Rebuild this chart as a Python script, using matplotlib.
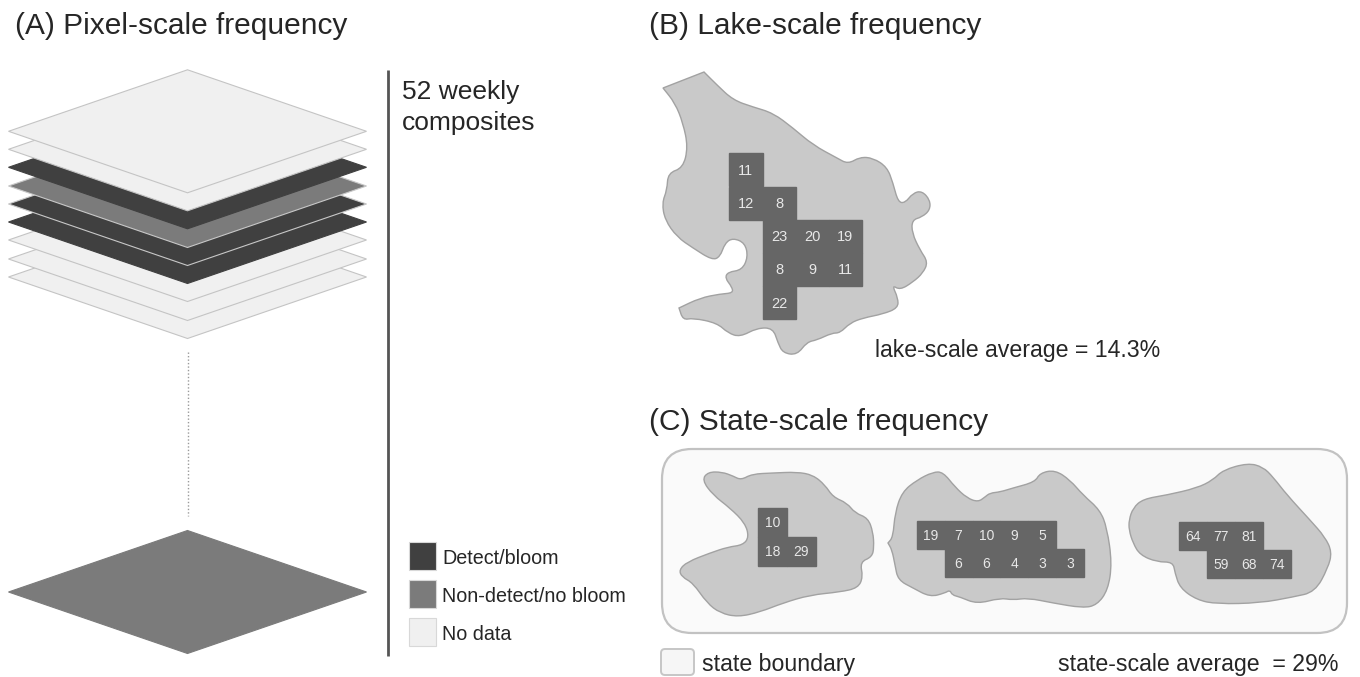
import matplotlib
matplotlib.use('Agg')
import matplotlib.pyplot as plt
from matplotlib.patches import Polygon, Rectangle, FancyBboxPatch, PathPatch
from matplotlib.path import Path

plt.rcParams['font.family'] = ['Liberation Sans', 'DejaVu Sans']

TXT = '#262626'
DARK = '#404040'
MID = '#7b7b7b'
LIGHT = '#f0f0f0'

# layers in panel A, top to bottom
layer_kind = ['none', 'none', 'bloom', 'nobloom', 'bloom', 'bloom', 'none', 'none', 'none']
layer_left_y = [131.3, 149.3, 167.3, 186, 204, 222, 240, 259, 277]
base_y = 592

legend_labels = ['Detect/bloom', 'Non-detect/no bloom', 'No data']
legend_colors = [DARK, MID, LIGHT]
legend_top = [541.7, 579.7, 617.5]

# lake outlines
lake_b = [(663, 88), (663, 88), (704, 72), (704, 72), (717, 85), (733, 100), (753, 107), (773, 113), (793, 128), (813, 145),
          (837, 158), (848, 164), (860, 157), (873, 158), (887, 167), (893, 183), (898, 202), (905, 203),
          (913, 193), (922, 191), (930, 200), (930, 210), (922, 217), (912, 220), (912, 233), (920, 250),
          (928, 262), (923, 273), (913, 282), (900, 290), (892, 285), (898, 298), (898, 308), (883, 314),
          (863, 318), (850, 323), (840, 333), (832, 333), (817, 340), (807, 342), (797, 355), (783, 353),
          (778, 343), (773, 328), (757, 328), (740, 337), (728, 333), (717, 323), (693, 318), (683, 320),
          (679, 308), (679, 308), (700, 298), (720, 294), (733, 293), (732, 287), (725, 278), (728, 272), (742, 270),
          (748, 257), (745, 243), (733, 238), (725, 243), (720, 257), (712, 260), (693, 248), (677, 237),
          (665, 220), (662, 203), (667, 190), (668, 173), (683, 168), (688, 147), (683, 123), (675, 103)]
lake_c1 = [(702, 480), (708, 472), (722, 472), (733, 476), (741, 480), (752, 474), (773, 473), (797, 472),
           (813, 475), (825, 485), (833, 497), (847, 503), (855, 513), (868, 518), (873, 532), (874, 547),
           (872, 557), (860, 562), (863, 577), (858, 588), (840, 592), (810, 595), (783, 603), (760, 612),
           (738, 617), (720, 613), (707, 603), (693, 583), (682, 577), (679, 570), (687, 562), (710, 553),
           (728, 547), (743, 545), (749, 537), (745, 523), (730, 508), (713, 495)]
lake_c2 = [(888, 543), (888, 543), (893, 537), (895, 513), (902, 492), (917, 480), (933, 472), (943, 472), (955, 487),
           (967, 498), (978, 502), (985, 497), (990, 493), (1000, 492), (1013, 488), (1035, 482), (1040, 473),
           (1055, 470), (1070, 480), (1083, 495), (1100, 510), (1107, 528), (1112, 563), (1108, 590), (1097, 605),
           (1083, 608), (1053, 603), (1028, 598), (1013, 600), (1000, 598), (977, 604), (960, 597), (952, 595),
           (950, 590), (945, 593), (930, 597), (913, 588), (898, 580), (895, 565), (892, 550)]
lake_c3 = [(1129, 520), (1133, 508), (1143, 499), (1167, 495), (1197, 488), (1213, 480), (1223, 470), (1248, 463),
           (1263, 467), (1273, 477), (1287, 495), (1310, 520), (1325, 537), (1332, 552), (1328, 568), (1315, 592),
           (1293, 597), (1260, 603), (1217, 604), (1197, 600), (1180, 588), (1175, 573), (1173, 562), (1157, 562),
           (1140, 555), (1133, 543), (1129, 530)]

# (row, col, percent)
cells_b = [(0, 0, 11), (1, 0, 12), (1, 1, 8), (2, 1, 23), (2, 2, 20), (2, 3, 19),
           (3, 1, 8), (3, 2, 9), (3, 3, 11), (4, 1, 22)]
cells_c1 = [(0, 0, 10), (1, 0, 18), (1, 1, 29)]
cells_c2 = [(0, 0, 19), (0, 1, 7), (0, 2, 10), (0, 3, 9), (0, 4, 5),
            (1, 1, 6), (1, 2, 6), (1, 3, 4), (1, 4, 3), (1, 5, 3)]
cells_c3 = [(0, 0, 64), (0, 1, 77), (0, 2, 81), (1, 1, 59), (1, 2, 68), (1, 3, 74)]

fig = plt.figure(figsize=(13.6, 6.77), dpi=100)
ax = fig.add_axes([0, 0, 1, 1])
ax.set_xlim(0, 1360)
ax.set_ylim(677, 0)
ax.axis('off')


def diamond(y, face, edge, z):
    # one flat layer, y is the left/right corner height
    cx, hw, hh = 187.5, 179, 61.5
    pts = [(cx - hw, y), (cx, y - hh), (cx + hw, y), (cx, y + hh)]
    ax.add_patch(Polygon(pts, closed=True, facecolor=face, edgecolor=edge, linewidth=0.8, zorder=z))


def lake(pts):
    # smooth outline, curves through the midpoints
    n = len(pts)
    mid = [((pts[i][0] + pts[(i + 1) % n][0]) / 2, (pts[i][1] + pts[(i + 1) % n][1]) / 2) for i in range(n)]
    verts = [mid[-1]]
    codes = [Path.MOVETO]
    for i in range(n):
        verts += [pts[i], mid[i]]
        codes += [Path.CURVE3, Path.CURVE3]
    ax.add_patch(PathPatch(Path(verts, codes), facecolor='#c9c9c9', edgecolor='#a2a2a2', linewidth=1, zorder=3))


def grid(cells, x0, y0, size, fs):
    for r, c, v in cells:
        ax.add_patch(Rectangle((x0 + c * size, y0 + r * size), size, size, facecolor='#666666',
                               edgecolor='#666666', linewidth=1, zorder=4))
    for r, c, v in cells:
        ax.text(x0 + (c + 0.5) * size, y0 + (r + 0.5) * size + 1, str(v), color='#e8e8e8', fontsize=fs,
                ha='center', va='center', zorder=5)


# panel A
diamond(base_y, MID, MID, 1)
edge_map = {'none': '#c4c4c4', 'bloom': DARK, 'nobloom': '#c8c8c8'}
face_map = {'none': LIGHT, 'bloom': DARK, 'nobloom': MID}
for i in range(len(layer_kind) - 1, -1, -1):
    k = layer_kind[i]
    edge = '#c8c8c8' if i == 4 else edge_map[k]
    diamond(layer_left_y[i], face_map[k], edge, 2 + len(layer_kind) - i)
ax.plot([187.5, 187.5], [352, 516], color='#9a9a9a', linewidth=1, linestyle=(0, (1, 1.5)))
ax.plot([388, 388], [70, 656], color='#555555', linewidth=2, solid_capstyle='butt')
ax.text(402, 92, '52 weekly', fontsize=19, color=TXT, va='center')
ax.text(402, 123, 'composites', fontsize=19, color=TXT, va='center')

for lab, col, top in zip(legend_labels, legend_colors, legend_top):
    ax.add_patch(Rectangle((409, top), 27, 28.5, facecolor=col, edgecolor='#d8d8d8', linewidth=0.8))
    ax.text(442, top + 17, lab, fontsize=14.2, color=TXT, va='center')

# panel B
lake(lake_b)
grid(cells_b, 729.3, 153.3, 33.2, 10.5)
ax.text(875, 350.5, 'lake-scale average = 14.3%', fontsize=16.7, color=TXT, va='center')

# panel C
ax.add_patch(FancyBboxPatch((662 + 30, 449 + 30), 685 - 60, 184 - 60, boxstyle='round,pad=30,rounding_size=30',
                            facecolor='#fafafa', edgecolor='#c2c2c2', linewidth=1.6, zorder=1))
lake(lake_c1)
lake(lake_c2)
lake(lake_c3)
grid(cells_c1, 757.7, 507.7, 29, 10)
grid(cells_c2, 916.7, 521, 27.9, 10)
grid(cells_c3, 1179.3, 522.3, 28, 10)

ax.add_patch(FancyBboxPatch((665, 653), 25, 18, boxstyle='round,pad=4,rounding_size=4',
                            facecolor='#f6f6f6', edgecolor='#c6c6c6', linewidth=1.4))
ax.text(702, 664, 'state boundary', fontsize=16.7, color=TXT, va='center')
ax.text(1058, 664, 'state-scale average  = 29%', fontsize=16.7, color=TXT, va='center')

# panel titles
ax.text(15, 26.5, '(A) Pixel-scale frequency', fontsize=21.5, color=TXT, va='center')
ax.text(649, 26.5, '(B) Lake-scale frequency', fontsize=21.5, color=TXT, va='center')
ax.text(649, 422.5, '(C) State-scale frequency', fontsize=21.5, color=TXT, va='center')

plt.savefig('out.png', dpi=100)
